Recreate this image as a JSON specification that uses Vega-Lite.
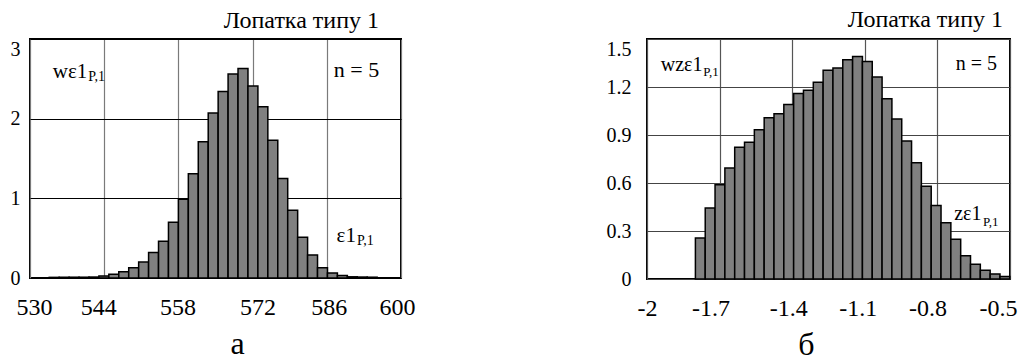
{
  "$schema": "https://vega.github.io/schema/vega-lite/v6.json",
  "padding": {"left": 9, "top": 7, "right": 0, "bottom": 0},
  "background": "white",
  "config": {
    "font": "Liberation Serif",
    "view": {"stroke": "black", "strokeWidth": 2},
    "axis": {"domain": false, "ticks": false, "labelFlush": false, "labelFont": "Liberation Serif", "labelColor": "black", "titleFont": "Liberation Serif", "titleColor": "black", "titleFontWeight": "normal", "gridOpacity": 1},
    "title": {"font": "Liberation Serif", "color": "black", "fontWeight": "normal"},
    "concat": {"spacing": 189}
  },
  "hconcat": [
    {
      "width": 371,
      "height": 239,
      "title": {"text": "Лопатка типу 1", "anchor": "end", "frame": "group", "fontSize": 24, "baseline": "alphabetic", "offset": -13, "dx": -22},
      "layer": [
        {
          "data": {"values": [
            {"lo": 533.625, "hi": 535.5, "w": 0.008},
            {"lo": 535.5, "hi": 537.375, "w": 0.008},
            {"lo": 537.375, "hi": 539.25, "w": 0.01},
            {"lo": 539.25, "hi": 541.125, "w": 0.01},
            {"lo": 541.125, "hi": 543, "w": 0.012},
            {"lo": 543, "hi": 544.875, "w": 0.025},
            {"lo": 544.875, "hi": 546.75, "w": 0.046},
            {"lo": 546.75, "hi": 548.625, "w": 0.08},
            {"lo": 548.625, "hi": 550.5, "w": 0.13},
            {"lo": 550.5, "hi": 552.375, "w": 0.2},
            {"lo": 552.375, "hi": 554.25, "w": 0.32},
            {"lo": 554.25, "hi": 556.125, "w": 0.46},
            {"lo": 556.125, "hi": 558, "w": 0.7},
            {"lo": 558, "hi": 559.875, "w": 0.99},
            {"lo": 559.875, "hi": 561.75, "w": 1.31},
            {"lo": 561.75, "hi": 563.625, "w": 1.71},
            {"lo": 563.625, "hi": 565.5, "w": 2.07},
            {"lo": 565.5, "hi": 567.375, "w": 2.34},
            {"lo": 567.375, "hi": 569.25, "w": 2.56},
            {"lo": 569.25, "hi": 571.125, "w": 2.63},
            {"lo": 571.125, "hi": 573, "w": 2.41},
            {"lo": 573, "hi": 574.875, "w": 2.15},
            {"lo": 574.875, "hi": 576.75, "w": 1.73},
            {"lo": 576.75, "hi": 578.625, "w": 1.25},
            {"lo": 578.625, "hi": 580.5, "w": 0.85},
            {"lo": 580.5, "hi": 582.375, "w": 0.51},
            {"lo": 582.375, "hi": 584.25, "w": 0.29},
            {"lo": 584.25, "hi": 586.125, "w": 0.13},
            {"lo": 586.125, "hi": 588, "w": 0.063},
            {"lo": 588, "hi": 589.875, "w": 0.03},
            {"lo": 589.875, "hi": 591.75, "w": 0.015},
            {"lo": 591.75, "hi": 593.625, "w": 0.012},
            {"lo": 593.625, "hi": 595.5, "w": 0.01}
          ]},
          "mark": {"type": "bar", "fill": "#808080", "stroke": "black", "strokeWidth": 1.5},
          "encoding": {
            "x": {"field": "lo", "type": "quantitative",
              "scale": {"domain": [530, 600], "nice": false, "zero": false},
              "axis": {"values": [530, 544, 558, 572, 586, 600], "labelFontSize": 24, "labelPadding": 17, "gridColor": "#7a7a7a", "gridWidth": 1.2,
                "labelOffset": {"condition": [{"test": "datum.value == 530", "value": 4}, {"test": "datum.value == 544", "value": -6}, {"test": "datum.value == 572", "value": 5}, {"test": "datum.value == 586", "value": 2}, {"test": "datum.value == 600", "value": -4}], "value": -1},
                "title": "а", "titleFontSize": 32, "titleX": 207, "titleY": 75, "titleAlign": "center", "titleBaseline": "alphabetic"}},
            "x2": {"field": "hi"},
            "y": {"field": "w", "type": "quantitative",
              "scale": {"domain": [0, 3], "nice": false},
              "axis": {"values": [0, 1, 2, 3], "format": "~g", "labelFontSize": 20, "labelPadding": 10, "gridColor": "black", "gridWidth": 1, "title": null,
                "labelBaseline": {"condition": {"test": "datum.value == 3", "value": "top"}, "value": "middle"}}},
            "y2": {"datum": 0}
          }
        },
        {
          "data": {"values": [{"x": 540.82, "y": 2.506, "t": "wε1"}, {"x": 591.5, "y": 0.448, "t": "ε1"}]},
          "mark": {"type": "text", "align": "right", "baseline": "alphabetic", "fontSize": 21, "font": "Liberation Serif", "color": "black"},
          "encoding": {"x": {"field": "x", "type": "quantitative"}, "y": {"field": "y", "type": "quantitative"}, "text": {"field": "t"}}
        },
        {
          "data": {"values": [{"x": 541.0, "y": 2.476, "t": "P,1"}, {"x": 591.7, "y": 0.418, "t": "P,1"}]},
          "mark": {"type": "text", "align": "left", "baseline": "alphabetic", "fontSize": 14, "font": "Liberation Serif", "color": "black"},
          "encoding": {"x": {"field": "x", "type": "quantitative"}, "y": {"field": "y", "type": "quantitative"}, "text": {"field": "t"}}
        },
        {
          "data": {"values": [{"x": 595.9, "y": 2.518, "t": "n = 5"}]},
          "mark": {"type": "text", "align": "right", "baseline": "alphabetic", "fontSize": 22, "font": "Liberation Serif", "color": "black"},
          "encoding": {"x": {"field": "x", "type": "quantitative"}, "y": {"field": "y", "type": "quantitative"}, "text": {"field": "t"}}
        }
      ]
    },
    {
      "width": 363,
      "height": 240,
      "title": {"text": "Лопатка типу 1", "anchor": "end", "frame": "group", "fontSize": 24, "baseline": "alphabetic", "offset": -12, "dx": -7},
      "layer": [
        {
          "data": {"values": [
            {"lo": -1.8, "hi": -1.7594, "w": 0.256},
            {"lo": -1.7594, "hi": -1.7188, "w": 0.444},
            {"lo": -1.7188, "hi": -1.6782, "w": 0.589},
            {"lo": -1.6782, "hi": -1.6376, "w": 0.694},
            {"lo": -1.6376, "hi": -1.597, "w": 0.823},
            {"lo": -1.597, "hi": -1.5564, "w": 0.854},
            {"lo": -1.5564, "hi": -1.5158, "w": 0.933},
            {"lo": -1.5158, "hi": -1.4752, "w": 1.008},
            {"lo": -1.4752, "hi": -1.4346, "w": 1.033},
            {"lo": -1.4346, "hi": -1.394, "w": 1.09},
            {"lo": -1.394, "hi": -1.3534, "w": 1.16},
            {"lo": -1.3534, "hi": -1.3128, "w": 1.18},
            {"lo": -1.3128, "hi": -1.2722, "w": 1.23},
            {"lo": -1.2722, "hi": -1.2316, "w": 1.305},
            {"lo": -1.2316, "hi": -1.191, "w": 1.318},
            {"lo": -1.191, "hi": -1.1504, "w": 1.37},
            {"lo": -1.1504, "hi": -1.1098, "w": 1.39},
            {"lo": -1.1098, "hi": -1.0692, "w": 1.36},
            {"lo": -1.0692, "hi": -1.0286, "w": 1.263},
            {"lo": -1.0286, "hi": -0.988, "w": 1.126},
            {"lo": -0.988, "hi": -0.9474, "w": 1.0},
            {"lo": -0.9474, "hi": -0.9068, "w": 0.862},
            {"lo": -0.9068, "hi": -0.8662, "w": 0.726},
            {"lo": -0.8662, "hi": -0.8256, "w": 0.58},
            {"lo": -0.8256, "hi": -0.785, "w": 0.46},
            {"lo": -0.785, "hi": -0.7444, "w": 0.352},
            {"lo": -0.7444, "hi": -0.7038, "w": 0.249},
            {"lo": -0.7038, "hi": -0.6632, "w": 0.146},
            {"lo": -0.6632, "hi": -0.6226, "w": 0.092},
            {"lo": -0.6226, "hi": -0.582, "w": 0.054},
            {"lo": -0.582, "hi": -0.5414, "w": 0.032},
            {"lo": -0.5414, "hi": -0.5008, "w": 0.015}
          ]},
          "mark": {"type": "bar", "fill": "#808080", "stroke": "black", "strokeWidth": 1.5},
          "encoding": {
            "x": {"field": "lo", "type": "quantitative",
              "scale": {"domain": [-2, -0.5], "nice": false, "zero": false},
              "axis": {"values": [-2, -1.7, -1.4, -1.1, -0.8, -0.5], "labelFontSize": 24, "labelPadding": 17, "gridColor": "#555555", "gridWidth": 1.2,
                "labelExpr": "replace(format(datum.value, '~g'), '\u2212', '-')",
                "labelOffset": {"condition": [{"test": "datum.value == -1.7", "value": -9}, {"test": "datum.value == -1.4", "value": -4}, {"test": "datum.value == -1.1", "value": -7}, {"test": "datum.value == -0.8", "value": -10}, {"test": "datum.value == -0.5", "value": -12}], "value": 0},
                "title": "б", "titleFontSize": 32, "titleX": 159, "titleY": 75, "titleAlign": "center", "titleBaseline": "alphabetic"}},
            "x2": {"field": "hi"},
            "y": {"field": "w", "type": "quantitative",
              "scale": {"domain": [0, 1.5], "nice": false},
              "axis": {"values": [0, 0.3, 0.6, 0.9, 1.2, 1.5], "format": "~g", "labelFontSize": 20, "labelPadding": 16, "gridColor": "#444444", "gridWidth": 1, "title": null,
                "labelBaseline": {"condition": {"test": "datum.value == 1.5", "value": "top"}, "value": "middle"}}},
            "y2": {"datum": 0}
          }
        },
        {
          "data": {"values": [{"x": -1.7707, "y": 1.30, "t": "wzε1"}, {"x": -0.618, "y": 0.366, "t": "zε1"}]},
          "mark": {"type": "text", "align": "right", "baseline": "alphabetic", "fontSize": 20, "font": "Liberation Serif", "color": "black"},
          "encoding": {"x": {"field": "x", "type": "quantitative"}, "y": {"field": "y", "type": "quantitative"}, "text": {"field": "t"}}
        },
        {
          "data": {"values": [{"x": -1.768, "y": 1.27, "t": "P,1"}, {"x": -0.612, "y": 0.329, "t": "P,1"}]},
          "mark": {"type": "text", "align": "left", "baseline": "alphabetic", "fontSize": 13, "font": "Liberation Serif", "color": "black"},
          "encoding": {"x": {"field": "x", "type": "quantitative"}, "y": {"field": "y", "type": "quantitative"}, "text": {"field": "t"}}
        },
        {
          "data": {"values": [{"x": -0.554, "y": 1.308, "t": "n = 5"}]},
          "mark": {"type": "text", "align": "right", "baseline": "alphabetic", "fontSize": 20, "font": "Liberation Serif", "color": "black"},
          "encoding": {"x": {"field": "x", "type": "quantitative"}, "y": {"field": "y", "type": "quantitative"}, "text": {"field": "t"}}
        }
      ]
    }
  ]
}
